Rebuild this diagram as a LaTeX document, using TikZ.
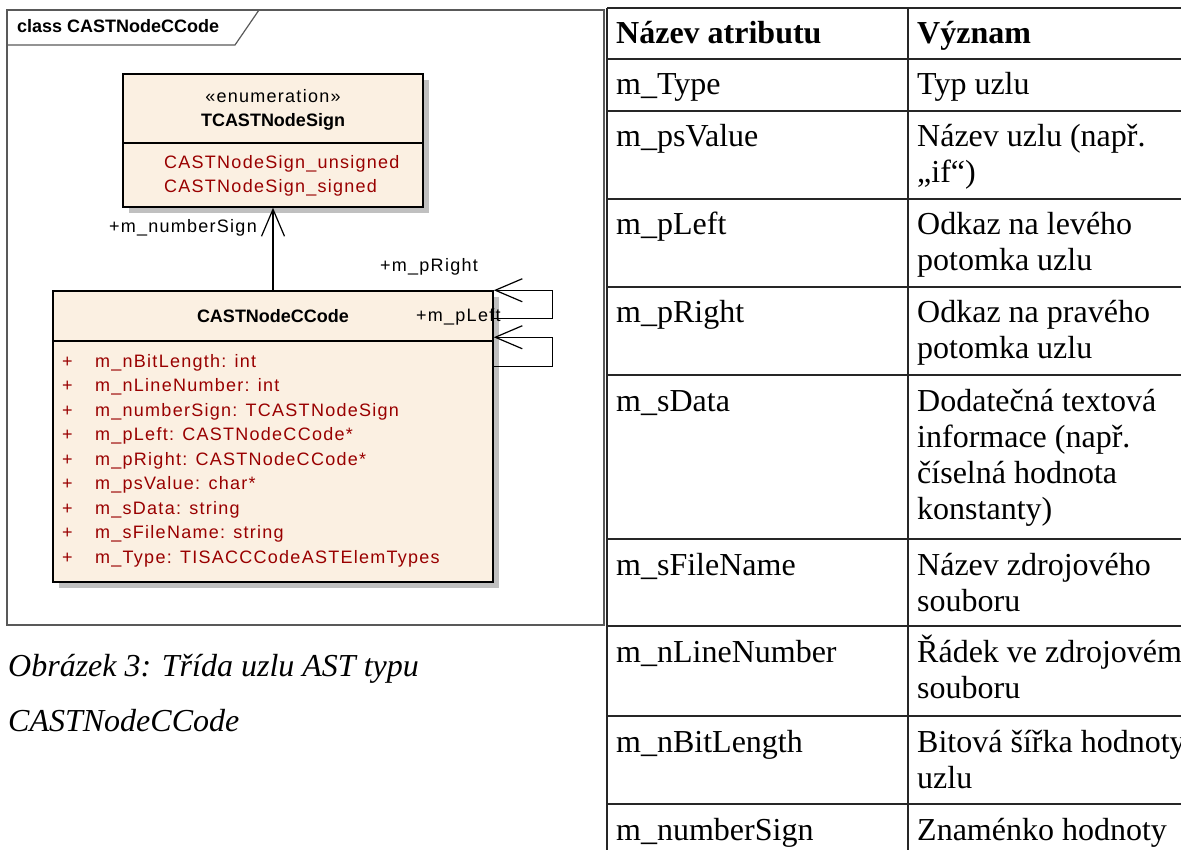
\documentclass[tikz,border=0pt]{standalone}
\usepackage{fontspec}
\setmainfont{Liberation Serif}
\newfontfamily\umlfont[LetterSpace=7]{Liberation Sans}
\newfontfamily\umlhead{Liberation Sans}
\usetikzlibrary{arrows.meta,shadows,positioning}
\definecolor{umlfill}{RGB}{251,240,226}
\definecolor{umlred}{RGB}{153,0,0}
\definecolor{umlshadow}{RGB}{192,192,192}
\tikzset{
  frame/.style={draw=black!65,line width=1.2pt},
  umlbox/.style={draw,line width=1.5pt,fill=umlfill,inner sep=0pt,
    drop shadow={shadow xshift=6pt,shadow yshift=-6pt,fill=umlshadow,opacity=1}},
  umltext/.style={inner sep=0pt,font=\umlfont\fontsize{18}{22}\selectfont},
  umlname/.style={inner sep=0pt,font=\umlhead\bfseries\fontsize{18}{22}\selectfont},
  umlattr/.style={umltext,text=umlred,anchor=base west},
  assoc/.style={line width=1.2pt,-{Straight Barb[length=27pt,width=23pt,line width=1.2pt]}},
  tabline/.style={draw=black!85,line width=1.2pt},
  tabtext/.style={inner sep=0pt,anchor=base west,font=\fontsize{32}{36}\selectfont},
  caption/.style={inner sep=0pt,anchor=base west,font=\itshape\fontsize{32}{36}\selectfont}
}
\begin{document}
\begin{tikzpicture}[x=1pt,y=-1pt]
\useasboundingbox (0,0) rectangle (1181,850);
\draw[frame] (7,10) rectangle (604,625);
\draw[frame] (7,45) -- (235,45) -- (259,10);
\node[umlname,anchor=base west] (title) at (17,33) {class CASTNodeCCode};

\node[umlbox,minimum width=300pt,minimum height=133pt] (enum) at (273,140.5) {};
\draw[line width=1.5pt] ([yshift=-70pt]enum.north west) -- ([yshift=-70pt]enum.north east);
\node[umltext,anchor=base] (stereo) at (273,103) {«enumeration»};
\node[umlname,anchor=base] (enumname) at (273,127) {TCASTNodeSign};
\node[umlattr] (lit1) at (164,169) {CASTNodeSign\_unsigned};
\node[umlattr] (lit2) at (164,193) {CASTNodeSign\_signed};

\node[umlbox,minimum width=440pt,minimum height=291pt] (cls) at (273,436.5) {};
\draw[line width=1.5pt] ([yshift=-51pt]cls.north west) -- ([yshift=-51pt]cls.north east);
\node[umlname,anchor=base] (clsname) at (273,323) {CASTNodeCCode};
\foreach \attr [count=\i from 0] in {m\_nBitLength: int,m\_nLineNumber: int,
    m\_numberSign: TCASTNodeSign,m\_pLeft: CASTNodeCCode*,m\_pRight: CASTNodeCCode*,
    m\_psValue: char*,m\_sData: string,m\_sFileName: string,m\_Type: TISACCCodeASTElemTypes}
  {
  \node[umlattr] (vis\i) at (62,367+24.5*\i) {+};
  \node[umlattr] (attr\i) at (95,367+24.5*\i) {\attr};
  }

\draw[assoc] (cls.north) -- (enum.south);
\node[umltext,anchor=base east] (lsign) at (257,233) {+m\_numberSign};
\draw[assoc] ([yshift=-28pt]cls.north east) -- ++(59,0) |- (cls.north east);
\draw[assoc] ([yshift=-76pt]cls.north east) -- ++(59,0) |- ([yshift=-47pt]cls.north east);
\node[umltext,anchor=base west] (lright) at (380,272) {+m\_pRight};
\node[umltext,anchor=base west] (lleft) at (416,322) {+m\_pLeft};

\foreach \y in {8,59,111,199,287,375,539,626,716,804}
  \draw[tabline] (607,\y) -- (1190,\y);
\draw[tabline] (607,8) -- (607,860);
\draw[tabline] (908,8) -- (908,860);
\node[tabtext,font=\bfseries\fontsize{32}{36}\selectfont] (h1) at (616,44) {Název atributu};
\node[tabtext,font=\bfseries\fontsize{32}{36}\selectfont] (h2) at (917,44) {Význam};
\foreach \y/\txt [count=\k] in {95/m\_Type,147/m\_psValue,235/m\_pLeft,323/m\_pRight,
    411/m\_sData,575/m\_sFileName,662/m\_nLineNumber,752/m\_nBitLength,840/m\_numberSign}
  \node[tabtext] (name\k) at (616,\y) {\txt};
\foreach \y/\txt [count=\k] in {95/Typ uzlu,147/Název uzlu (např.,183/„if“),
    235/Odkaz na levého,271/potomka uzlu,323/Odkaz na pravého,359/potomka uzlu,
    411/Dodatečná textová,447/informace (např.,483/číselná hodnota,519/konstanty),
    575/Název zdrojového,611/souboru,662/Řádek ve zdrojovém,698/souboru,
    752/Bitová šířka hodnoty,788/uzlu,840/Znaménko hodnoty}
  \node[tabtext] (mean\k) at (917,\y) {\txt};

\node[caption] (cap1) at (8,676) {Obrázek 3: Třída uzlu AST typu};
\node[caption] (cap2) at (8,731) {CASTNodeCCode};
\end{tikzpicture}
\end{document}
